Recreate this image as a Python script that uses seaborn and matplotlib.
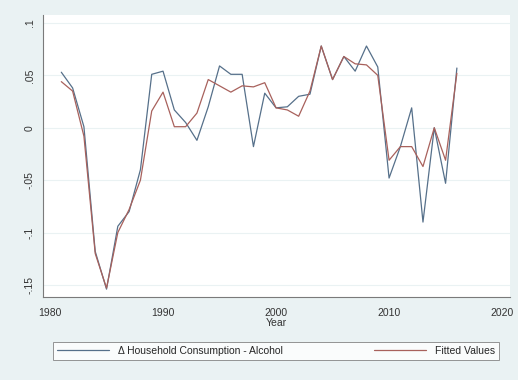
import matplotlib
matplotlib.use("Agg")
import matplotlib.pyplot as plt
import numpy as np
import pandas as pd
import seaborn as sns

years = list(range(1981, 2017))
actual = [0.053, 0.038, 0.001, -0.118, -0.154, -0.094, -0.080, -0.040, 0.051, 0.054,
          0.017, 0.005, -0.012, 0.020, 0.059, 0.051, 0.051, -0.018, 0.033, 0.019,
          0.020, 0.030, 0.032, 0.078, 0.046, 0.068, 0.054, 0.078, 0.058, -0.048,
          -0.018, 0.019, -0.090, 0.000, -0.053, 0.057]
fitted = [0.044, 0.035, -0.008, -0.120, -0.153, -0.100, -0.078, -0.050, 0.016, 0.034,
          0.001, 0.001, 0.014, 0.046, 0.040, 0.034, 0.040, 0.039, 0.043, 0.019,
          0.017, 0.011, 0.035, 0.078, 0.046, 0.068, 0.061, 0.060, 0.050, -0.031,
          -0.018, -0.018, -0.037, 0.000, -0.031, 0.052]
series_names = ["\u0394 Household Consumption - Alcohol", "Fitted Values"]
x_ticks = [1980, 1990, 2000, 2010, 2020]
y_ticks = [-0.15, -0.1, -0.05, 0, 0.05, 0.1]
y_labels = ["-.15", "-.1", "-.05", "0", ".05", ".1"]

df = pd.DataFrame({
    "Year": years * 2,
    "value": actual + fitted,
    "series": [series_names[0]] * len(years) + [series_names[1]] * len(years),
})

bg = "#eaf2f3"
sns.set_style("white")
plt.rcParams["font.family"] = ["Liberation Sans", "DejaVu Sans"]
plt.rcParams["font.size"] = 7.5

fig = plt.figure(figsize=(5.18, 3.80), dpi=100, facecolor=bg)
ax = fig.add_axes([43 / 518, 1 - 297 / 380, 467 / 518, 282 / 380])
ax.set_facecolor("white")

palette = {series_names[0]: "#56708a", series_names[1]: "#a8615c"}
sns.lineplot(data=df, x="Year", y="value", hue="series", palette=palette,
             linewidth=0.9, ax=ax, legend=False)

ax.set_xlim(1979.38, 2020.7)
ax.set_ylim(-0.1615, 0.1076)
ax.set_xticks(x_ticks)
ax.set_yticks(y_ticks)
ax.set_yticklabels(y_labels, rotation=90, va="center")
ax.grid(axis="y", color=bg, linewidth=0.8)
ax.set_axisbelow(True)
for side in ["top", "right"]:
    ax.spines[side].set_visible(False)
for side in ["left", "bottom"]:
    ax.spines[side].set_color("#7a7a7a")
    ax.spines[side].set_linewidth(0.8)
ax.tick_params(axis="both", length=3, width=0.6, color="#7a7a7a",
               labelcolor="#333333", labelsize=7.5, pad=3)
ax.tick_params(axis="x", pad=5)
ax.set_xlabel("Year", fontsize=7.5, color="#333333", labelpad=0)
ax.set_ylabel("")

handles = [plt.Line2D([], [], color=palette[n], linewidth=0.9) for n in series_names]
leg = fig.legend(handles, series_names, ncol=2, mode="expand",
                 bbox_to_anchor=(53 / 518, 1 - 363 / 380, 446 / 518, 24 / 380),
                 loc="center", frameon=True, fancybox=False, fontsize=7.5,
                 handlelength=5, borderaxespad=0)
leg.get_frame().set_edgecolor("#7a7a7a")
leg.get_frame().set_linewidth(0.7)
leg.get_frame().set_facecolor("white")

fig.savefig("out.png", dpi=100, facecolor=bg)
